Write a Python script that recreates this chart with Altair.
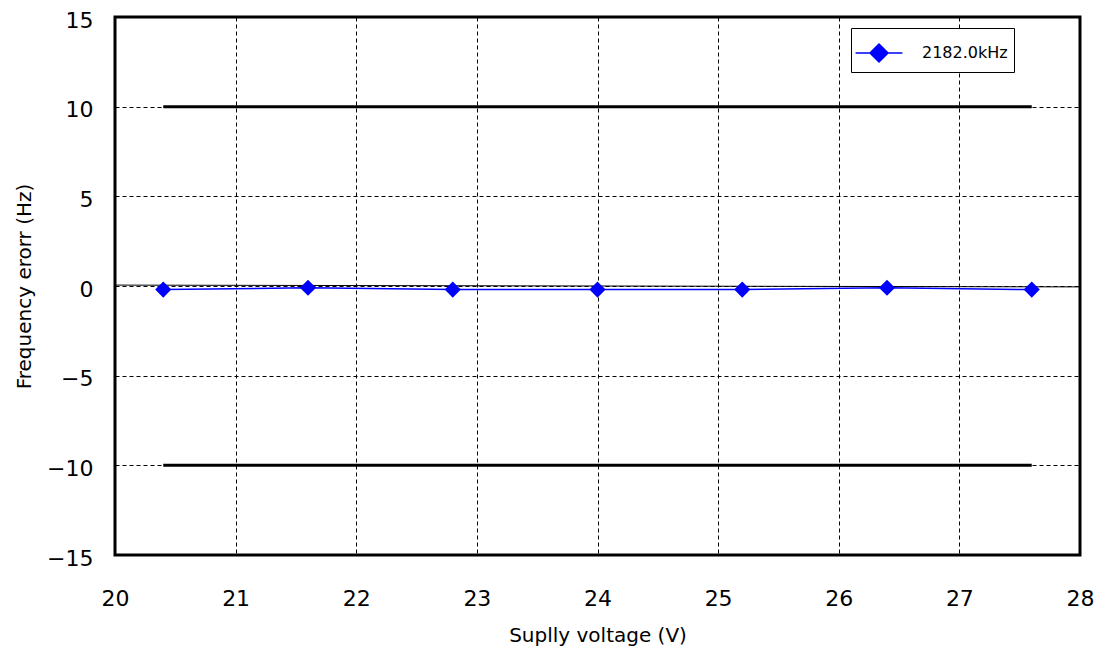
import altair as alt
import pandas as pd

voltage = [20.4, 21.6, 22.8, 24.0, 25.2, 26.4, 27.6]
error = [-0.2, -0.1, -0.2, -0.2, -0.2, -0.1, -0.2]
series_name = "2182.0kHz"

limit_x = [20.4, 27.6]
limit_hi = [10, 10]
limit_lo = [-10, -10]

ref_x = [20, 28]
ref_y = [0.05, -0.05]

x_ticks = [20, 21, 22, 23, 24, 25, 26, 27, 28]
y_ticks = [-15, -10, -5, 0, 5, 10, 15]

FONT = "DejaVu Sans"

df = pd.DataFrame({"v": voltage, "e": error, "s": [series_name] * len(voltage)})
lim = pd.DataFrame({"v": limit_x * 2, "e": limit_hi + limit_lo, "g": ["hi", "hi", "lo", "lo"]})
ref = pd.DataFrame({"v": ref_x, "e": ref_y})

xs = alt.Scale(domain=[20, 28], nice=False)
ys = alt.Scale(domain=[-15, 15], nice=False)

x_axis = alt.Axis(values=x_ticks, title="Suplly voltage (V)", grid=True, gridColor="black",
                  gridDash=[4, 3], gridWidth=1, ticks=False, domain=False, labelPadding=33,
                  labelFontSize=22, titleFontSize=20, titlePadding=16, labelFont=FONT,
                  titleFont=FONT, titleFontWeight="normal", labelColor="black", titleColor="black",
                  format="d", labelFlush=False)
y_axis = alt.Axis(values=y_ticks, title="Frequency erorr (Hz)", grid=True, gridColor="black",
                  gridDash=[4, 3], gridWidth=1, ticks=False, domain=False, labelPadding=22,
                  labelFontSize=22, titleFontSize=20, titlePadding=12, labelFont=FONT,
                  titleFont=FONT, titleFontWeight="normal", labelColor="black", titleColor="black",
                  format="d", labelOffset=3, labelFlush=False,
                  labelExpr="replace(datum.label, '-', '\u2212')")

base_ref = alt.Chart(ref).mark_line(color="black", strokeWidth=1).encode(
    x=alt.X("v:Q", scale=xs, axis=x_axis),
    y=alt.Y("e:Q", scale=ys, axis=y_axis),
)

limits = alt.Chart(lim).mark_line(color="black", strokeWidth=3).encode(
    x=alt.X("v:Q", scale=xs), y=alt.Y("e:Q", scale=ys), detail="g:N"
)

legend = alt.Legend(title=None, orient="none", legendX=736, legendY=11, strokeColor="black",
                    fillColor="white", padding=6, labelFontSize=16, labelFont=FONT,
                    labelColor="black", symbolType="M-1.3,0L1.3,0M0,-0.5L0.5,0L0,0.5L-0.5,0Z",
                    symbolSize=1300, symbolStrokeWidth=1.5, symbolFillColor="blue",
                    symbolStrokeColor="blue", labelOffset=24, symbolOffset=3, labelLimit=300)

line = alt.Chart(df).mark_line(strokeWidth=1.5).encode(
    x=alt.X("v:Q", scale=xs), y=alt.Y("e:Q", scale=ys),
    color=alt.Color("s:N", scale=alt.Scale(range=["blue"]), legend=legend),
)
pts = alt.Chart(df).mark_point(shape="diamond", filled=True, size=260, opacity=1).encode(
    x=alt.X("v:Q", scale=xs), y=alt.Y("e:Q", scale=ys),
    color=alt.Color("s:N", scale=alt.Scale(range=["blue"]), legend=None),
)

chart = alt.layer(base_ref, limits, line, pts).properties(
    width=965, height=538,
    autosize=alt.AutoSizeParams(type="none"),
    padding={"left": 107, "top": 9, "right": 16, "bottom": 100},
).configure(background="white").configure_view(stroke="black", strokeWidth=3)

chart.save("out.html", embed_options={"renderer": "svg", "actions": False})
